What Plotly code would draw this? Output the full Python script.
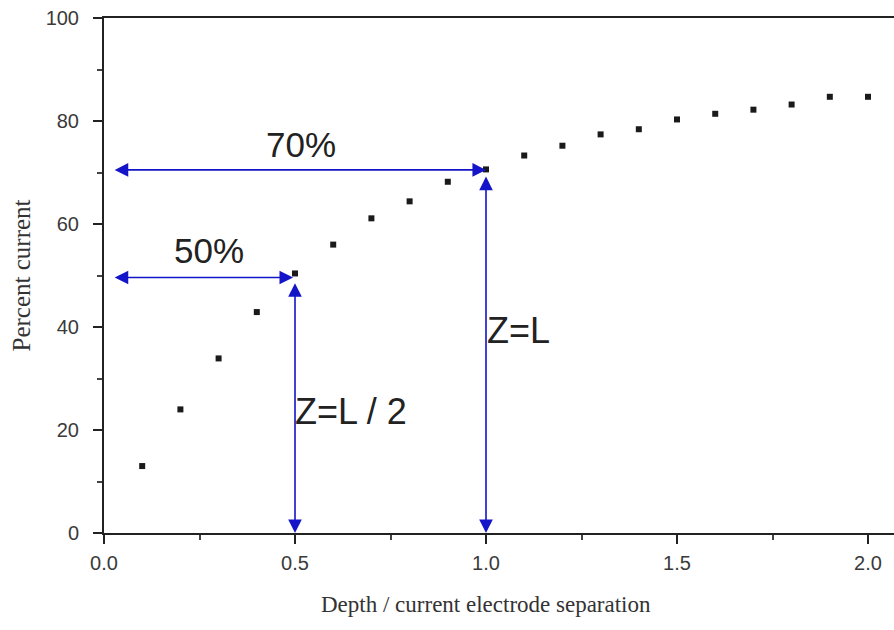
import plotly.graph_objects as go

depth = [0.1, 0.2, 0.3, 0.4, 0.5, 0.6, 0.7, 0.8, 0.9, 1.0,
         1.1, 1.2, 1.3, 1.4, 1.5, 1.6, 1.7, 1.8, 1.9, 2.0]
percent = [13.0, 24.0, 33.9, 42.9, 50.4, 56.0, 61.1, 64.4, 68.2, 70.6,
           73.3, 75.2, 77.4, 78.4, 80.3, 81.4, 82.2, 83.2, 84.7, 84.7]

x_ticks = [0.0, 0.5, 1.0, 1.5, 2.0]
x_ticklabels = ["0.0", "0.5", "1.0", "1.5", "2.0"]
y_ticks = [0, 20, 40, 60, 80, 100]

x_title = "Depth / current electrode separation"
y_title = "Percent current"

# annotation guides
guide70 = {"pct": 70.5, "depth": 1.0}
guide50 = {"pct": 49.6, "depth": 0.5}

blue = "#1414c8"

fig = go.Figure()
fig.add_trace(go.Scatter(
    x=depth, y=percent, mode="markers",
    marker=dict(symbol="square", size=6, color="#1a1a1a"),
    showlegend=False, hoverinfo="skip"))

def arrow(x0, y0, x1, y1):
    fig.add_annotation(x=x1, y=y1, ax=x0, ay=y0, xref="x", yref="y",
                       axref="x", ayref="y", showarrow=True, text="",
                       arrowhead=2, startarrowhead=2, arrowside="end+start",
                       arrowsize=1.7, startarrowsize=1.7, arrowwidth=1.6,
                       arrowcolor=blue, standoff=0, startstandoff=0)

arrow(0.024, guide70["pct"], guide70["depth"], guide70["pct"])
arrow(guide70["depth"], 69.5, guide70["depth"], 0)
arrow(0.024, guide50["pct"], guide50["depth"] - 0.005, guide50["pct"])
arrow(guide50["depth"], 48.8, guide50["depth"], 0)

pct_font = dict(family="Liberation Sans, Arial, sans-serif", size=35, color="#222222")
z_font = dict(family="Liberation Sans, Arial, sans-serif", size=36, color="#222222")
fig.add_annotation(x=0.515, y=75.5, xref="x", yref="y", text="70%",
                   showarrow=False, font=pct_font, xanchor="center", yanchor="middle")
fig.add_annotation(x=0.275, y=54.8, xref="x", yref="y", text="50%",
                   showarrow=False, font=pct_font, xanchor="center", yanchor="middle")
fig.add_annotation(x=0.496, y=23.6, xref="x", yref="y", text="Z=L / 2",
                   showarrow=False, font=z_font, xanchor="left", yanchor="middle")
fig.add_annotation(x=0.997, y=39.3, xref="x", yref="y", text="Z=L",
                   showarrow=False, font=z_font, xanchor="left", yanchor="middle")

axis_font = dict(family="Liberation Sans, Arial, sans-serif", size=20, color="#3a3a3a")
xtitle_font = dict(family="Liberation Serif, Times New Roman, serif", size=23, color="#333333")
ytitle_font = dict(family="Liberation Serif, Times New Roman, serif", size=25, color="#333333")

fig.add_annotation(x=0.4835, y=-0.139, xref="paper", yref="paper", text=x_title,
                   showarrow=False, font=xtitle_font, xanchor="center", yanchor="middle")

fig.update_layout(
    width=894, height=630,
    margin=dict(l=104, r=0, t=18, b=97),
    plot_bgcolor="white", paper_bgcolor="white",
    xaxis=dict(range=[0, 2.068], tickvals=x_ticks, ticktext=x_ticklabels,
               showgrid=False, zeroline=False, showline=True, linecolor="#222222",
               linewidth=2, mirror=True, ticks="outside", ticklen=9, tickwidth=1.5,
               tickcolor="#222222", tickfont=axis_font, ticklabelstandoff=2,
               minor=dict(dtick=0.25, ticks="outside", ticklen=5, tickcolor="#444444")),
    yaxis=dict(range=[0, 100], tickvals=y_ticks, showgrid=False, zeroline=False,
               showline=True, linecolor="#222222", linewidth=2, ticks="outside",
               ticklen=9, tickwidth=1.5, tickcolor="#222222", tickfont=axis_font,
               ticklabelstandoff=10,
               minor=dict(dtick=10, ticks="outside", ticklen=5, tickcolor="#444444"),
               title=dict(text=y_title, font=ytitle_font, standoff=8)),
)

fig.write_html("out.html")
